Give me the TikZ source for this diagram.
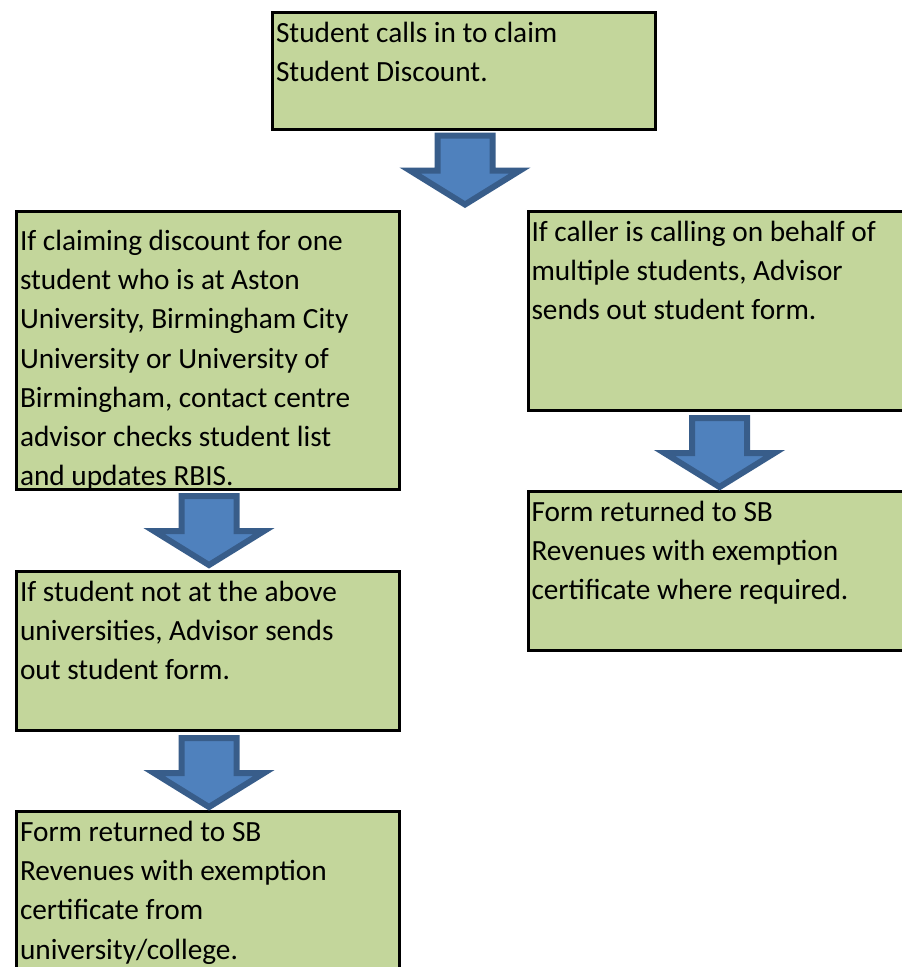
\documentclass[tikz,border=0pt]{standalone}
\usepackage{fontspec}
\setmainfont{Carlito}
\definecolor{boxgreen}{HTML}{C3D69B}
\definecolor{arrowfill}{HTML}{4F81BD}
\definecolor{arrowline}{HTML}{385D8A}
\newcommand{\boxcontent}[4]{\parbox[t][#2][t]{#1}{\fontsize{29.3pt}{39.2pt}\selectfont\leftskip=3.5pt\rightskip=0pt plus 1fil\parindent=0pt\rule{0pt}{#3}#4}}
\tikzset{
  stepbox/.style={draw=black, line width=3pt, fill=boxgreen, rectangle, inner sep=0pt, anchor=north west, text=black},
  barrow/.pic={
    \draw[line width=6pt, line join=miter, draw=arrowline, fill=arrowfill]
      (-27.5,3) -- (27.5,3) -- (27.5,38) -- (55,38) -- (0,72) -- (-55,38) -- (-27.5,38) -- cycle;
  }
}
\begin{document}
\begin{tikzpicture}[x=1pt,y=-1pt]
\clip (0,0) rectangle (902,967);
\fill[white] (0,0) rectangle (902,967);
% boxes
\node[stepbox] (start) at (271,10.5) {\boxcontent{383pt}{117.5pt}{30.5pt}{Student calls in to claim\\Student Discount.}};
\node[stepbox] (one) at (15,210) {\boxcontent{383pt}{278pt}{39pt}{If claiming discount for one\\student who is at Aston\\University, Birmingham City\\University or University of\\Birmingham, contact centre\\advisor checks student list\\and updates RBIS.}};
\node[stepbox] (notabove) at (15,570) {\boxcontent{383pt}{159pt}{29.5pt}{If student not at the above\\universities, Advisor sends\\out student form.}};
\node[stepbox] (retleft) at (15,810) {\boxcontent{383pt}{200pt}{30pt}{Form returned to SB\\Revenues with exemption\\certificate from\\university/college.}};
\node[stepbox] (multi) at (526.5,210) {\boxcontent{383pt}{199pt}{29.5pt}{If caller is calling on behalf of\\multiple students, Advisor\\sends out student form.}};
\node[stepbox] (retright) at (526.5,490) {\boxcontent{383pt}{159pt}{29.5pt}{Form returned to SB\\Revenues with exemption\\certificate where required.}};
% block arrows
\pic at ([xshift=1pt,yshift=-1.5pt]start.south) {barrow};
\pic at ([xshift=1pt,yshift=-2pt]one.south) {barrow};
\pic at ([xshift=1pt,yshift=-3pt]notabove.south) {barrow};
\pic at ([xshift=0pt,yshift=-3pt]multi.south) {barrow};
\end{tikzpicture}
\end{document}
